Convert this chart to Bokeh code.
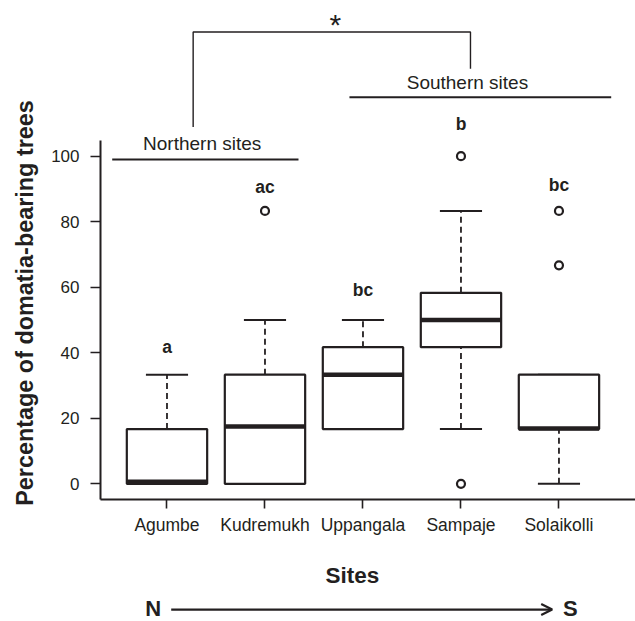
import numpy as np
from bokeh.plotting import figure
from bokeh.models import Range1d, FixedTicker, Arrow, OpenHead, ColumnDataSource
from bokeh.embed import file_html
from bokeh.resources import INLINE
from bokeh.core.properties import value

# ---- data ----
sites = ["Agumbe", "Kudremukh", "Uppangala", "Sampaje", "Solaikolli"]
lower_whisker = [0.0, 0.0, 16.7, 16.7, 0.0]
q1 = [0.0, 0.0, 16.7, 41.7, 16.7]
median = [0.6, 17.5, 33.3, 50.0, 16.9]
q3 = [16.7, 33.3, 41.7, 58.3, 33.3]
upper_whisker = [33.3, 50.0, 50.0, 83.3, 33.3]
outlier_site = ["Kudremukh", "Sampaje", "Sampaje", "Solaikolli", "Solaikolli"]
outlier_value = [83.3, 100.0, 0.0, 83.3, 66.7]
group_letters = ["a", "ac", "bc", "b", "bc"]
letter_y = [41.7, 90.6, 59.2, 109.7, 91.2]
y_ticks = [0, 20, 40, 60, 80, 100]

INK = "#231f20"
FONT = value("Liberation Sans")

pos = np.arange(1, len(sites) + 1)
idx = {s: i + 1 for i, s in enumerate(sites)}
ox = [idx[s] for s in outlier_site]
BOX_HALF = 0.41
CAP_HALF = 0.215

# plot-region limits (R style: axes only span the plotting region)
X_LEFT, X_RIGHT = 0.3214, 5.781
Y_BOTTOM, Y_TOP = -4.79, 104.8

p = figure(width=635, height=621, output_backend="svg", toolbar_location=None,
           x_range=Range1d(-0.699, 5.781), y_range=Range1d(-42.03, 147.53),
           min_border=0, min_border_left=0, min_border_right=0,
           min_border_top=0, min_border_bottom=0)
p.outline_line_color = None
p.grid.visible = False
p.background_fill_color = "white"
p.border_fill_color = "white"

# axes, fixed at the edges of the plotting region
p.yaxis.fixed_location = X_LEFT
p.xaxis.fixed_location = Y_BOTTOM
for ax in (p.xaxis[0], p.yaxis[0]):
    ax.axis_line_color = INK
    ax.axis_line_width = 2
    ax.major_tick_line_color = INK
    ax.major_tick_line_width = 1.6
    ax.minor_tick_line_color = None
    ax.major_tick_in = 0
    ax.major_label_text_font = "Liberation Sans"
    ax.major_label_text_color = INK

p.xaxis.ticker = FixedTicker(ticks=list(pos))
p.xaxis.major_label_overrides = {int(i): s for i, s in zip(pos, sites)}
p.xaxis.bounds = (X_LEFT, X_RIGHT)
p.xaxis.major_tick_out = 9
p.xaxis.major_label_standoff = 6
p.xaxis.major_label_text_font_size = "17.5px"

p.yaxis.ticker = FixedTicker(ticks=y_ticks)
p.yaxis.bounds = (Y_BOTTOM, Y_TOP)
p.yaxis.major_tick_out = 10
p.yaxis.major_label_standoff = 11
p.yaxis.major_label_text_font_size = "17px"

src = ColumnDataSource(dict(pos=pos, lw=lower_whisker, q1=q1, med=median, q3=q3,
                            uw=upper_whisker, letters=group_letters, ly=letter_y))

# whiskers
p.segment(x0="pos", y0="q3", x1="pos", y1="uw", source=src, line_color=INK,
          line_width=1.8, line_dash="6 4")
p.segment(x0="pos", y0="lw", x1="pos", y1="q1", source=src, line_color=INK,
          line_width=1.8, line_dash="6 4")
# caps
p.segment(x0=pos - CAP_HALF, y0=upper_whisker, x1=pos + CAP_HALF, y1=upper_whisker,
          line_color=INK, line_width=2)
p.segment(x0=pos - CAP_HALF, y0=lower_whisker, x1=pos + CAP_HALF, y1=lower_whisker,
          line_color=INK, line_width=2)
# boxes
p.quad(left=pos - BOX_HALF, right=pos + BOX_HALF, bottom=q1, top=q3,
       fill_color="white", line_color=INK, line_width=2.2)
# medians
p.segment(x0=pos - BOX_HALF, y0=median, x1=pos + BOX_HALF, y1=median,
          line_color=INK, line_width=4.5, line_cap="butt")
# outliers
p.scatter(x=ox, y=outlier_value, marker="circle", size=8, fill_color="white",
          line_color=INK, line_width=2.2)
# letters
p.text(x="pos", y="ly", text="letters", source=src, text_font=FONT,
       text_font_style="bold", text_font_size="17.5px", text_align="center",
       text_baseline="alphabetic", text_color=INK)

# group annotations
north_line_x = [0.441, 2.342]
north_line_y = 99.0
south_line_x = [2.862, 5.533]
south_line_y = 118.0
bracket_x = [1.267, 1.267, 4.097, 4.097]
bracket_y = [108.9, 137.9, 137.9, 126.7]

p.line(x=north_line_x, y=[north_line_y] * 2, line_color=INK, line_width=1.8)
p.line(x=south_line_x, y=[south_line_y] * 2, line_color=INK, line_width=1.8)
p.line(x=bracket_x, y=bracket_y, line_color=INK, line_width=1.4)
p.text(x=[1.359, 4.066], y=[103.8, 122.4], text=["Northern sites", "Southern sites"],
       text_font=FONT, text_font_size="19px", text_align="center",
       text_baseline="alphabetic", text_color=INK)
p.text(x=[2.719], y=[140.3], text=["*"], text_font=FONT, text_font_size="30px",
       text_align="center", text_baseline="alphabetic", text_color=INK)

# axis titles and the north-south arrow
p.text(x=[-0.449], y=[55.2], text=["Percentage of domatia-bearing trees"],
       angle=np.pi / 2, text_font=FONT, text_font_style="bold",
       text_font_size="23.4px", text_align="center", text_baseline="alphabetic",
       text_color=INK)
p.text(x=[2.893], y=[-27.96], text=["Sites"], text_font=FONT, text_font_style="bold",
       text_font_size="22.5px", text_align="center", text_baseline="alphabetic",
       text_color=INK)
p.text(x=[0.859, 5.117], y=[-38.06, -38.06], text=["N", "S"], text_font=FONT,
       text_font_style="bold", text_font_size="22px", text_align="center",
       text_baseline="alphabetic", text_color=INK)
p.add_layout(Arrow(x_start=1.043, y_start=-38.4, x_end=4.931, y_end=-38.4,
                   line_color=INK, line_width=2.2,
                   end=OpenHead(size=11, line_color=INK, line_width=2.2)))

open("out.html", "w").write(file_html(p, INLINE))
